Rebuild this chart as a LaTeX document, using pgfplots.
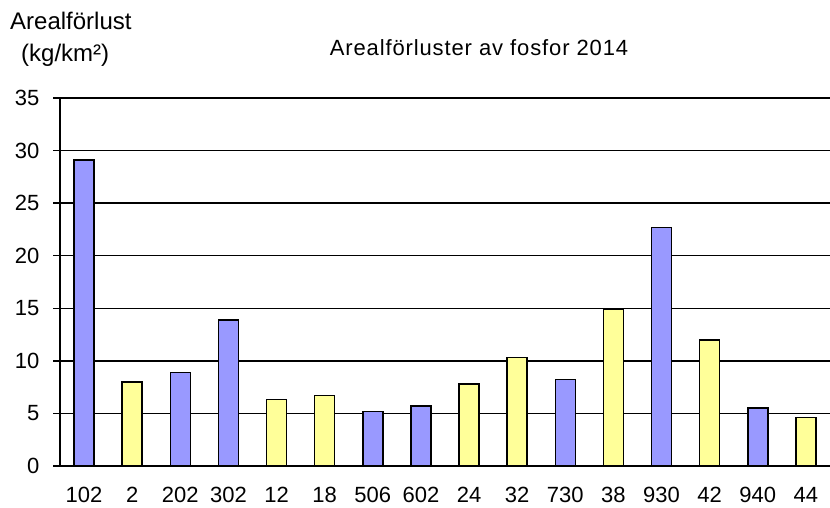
\documentclass[border=0pt]{standalone}
\usepackage{pgfplots}
\pgfplotsset{compat=1.18}
\usepackage{fontspec}
\setmainfont{Liberation Sans}
\definecolor{barblue}{HTML}{9999FF}
\definecolor{baryellow}{HTML}{FFFF99}
\begin{document}
\begin{tikzpicture}[x=1pt,y=1pt]
\path[use as bounding box] (0,0) rectangle (830,507);
\begin{axis}[
  at={(60pt,41pt)}, anchor=south west,
  scale only axis, width=770pt, height=368pt,
  xmin=-0.5, xmax=15.5, ymin=0, ymax=35,
  ytick={0,5,...,35},
  xtick={0,...,15},
  xticklabels={102,2,202,302,12,18,506,602,24,32,730,38,930,42,940,44},
  minor xtick={-0.5,0.5,...,15.5},
  axis x line*=bottom, axis y line*=left,
  axis line style={black, line width=1.4pt, -},
  ymajorgrids, grid style={black, line width=1.4pt},
  tick align=outside,
  major tick length=7pt, minor tick length=7pt,
  xtick style={draw=none},
  ytick style={black, line width=1.4pt},
  minor x tick style={black, line width=1.4pt},
  ticklabel style={font=\fontsize{22}{26}\selectfont},
  yticklabel style={xshift=-10pt},
  xticklabel style={yshift=-11pt},
  /pgf/number format/assume math mode=true,
  ybar, bar width=20pt, bar shift=0pt,
  every axis plot/.append style={draw=black, line width=1.4pt},
]
\addplot[fill=barblue] coordinates {(0,29.1)(2,8.9)(3,13.9)(6,5.2)(7,5.7)(10,8.2)(12,22.7)(14,5.5)};
\addplot[fill=baryellow] coordinates {(1,8.0)(4,6.3)(5,6.7)(8,7.8)(9,10.3)(11,14.9)(13,12.0)(15,4.6)};
\end{axis}
\node[anchor=west, font=\fontsize{24}{28}\selectfont, inner sep=0pt] at (10,486) {Arealförlust};
\node[anchor=west, font=\fontsize{24}{28}\selectfont, inner sep=0pt] at (21,452) {(kg/km²)};
\node[font=\fontsize{22}{26}\selectfont\addfontfeature{LetterSpace=4}] at (479,459) {Arealförluster av fosfor 2014};
\end{tikzpicture}
\end{document}
